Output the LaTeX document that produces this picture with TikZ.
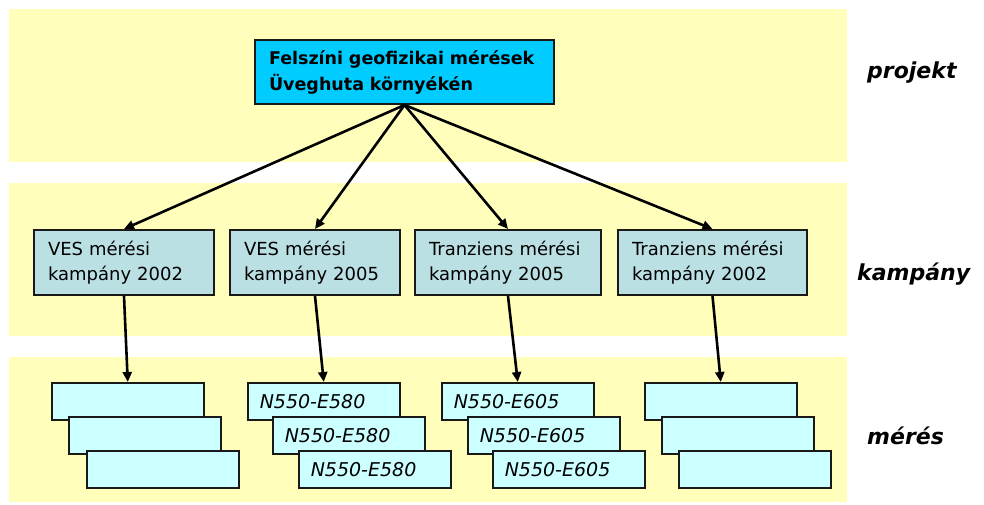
\documentclass[tikz,border=0pt]{standalone}
\usepackage{fontspec}
\setmainfont{DejaVu Sans}
\usetikzlibrary{arrows.meta}

\definecolor{band}{RGB}{255,255,187}
\definecolor{projfill}{RGB}{0,204,255}
\definecolor{campfill}{RGB}{187,224,228}
\definecolor{measfill}{RGB}{204,255,255}
\definecolor{edge}{RGB}{25,25,25}

\tikzset{
  bandbox/.style={fill=band},
  projbox/.style={draw=edge, line width=2pt, fill=projfill, anchor=north west,
    minimum height=64pt, text width=271pt, inner xsep=14pt, inner ysep=0pt,
    align=left, font=\fontsize{17.5}{26}\selectfont\bfseries},
  campbox/.style={draw=edge, line width=2pt, fill=campfill, anchor=north west,
    minimum height=65pt, inner xsep=14pt, inner ysep=0pt,
    align=left, font=\fontsize{18}{25}\selectfont},
  measbox/.style={draw=edge, line width=1.5pt, fill=measfill, anchor=north west,
    minimum height=37pt, text width=128pt, inner xsep=12pt, inner ysep=0pt,
    align=left, font=\fontsize{19}{22}\selectfont\itshape},
  levellabel/.style={anchor=base west, inner sep=0pt,
    font=\fontsize{22}{26}\selectfont\bfseries\itshape},
  conn/.style={draw=black, line width=2.6pt, -{Triangle[length=10pt,width=9pt]}},
}

\begin{document}
\begin{tikzpicture}[x=1pt,y=-1pt]
  \useasboundingbox (0,0) rectangle (984,504);

  % level bands
  \fill[bandbox] (9,9) rectangle (847,162);
  \fill[bandbox] (9,183) rectangle (847,336);
  \fill[bandbox] (9,357) rectangle (847,502);

  % project
  \node[projbox] (proj) at (254,39) {Felszíni geofizikai mérések\\Üveghuta környékén};

  % campaigns
  \node[campbox, text width=152pt] (c1) at (33,229) {VES mérési\\kampány 2002};
  \node[campbox, text width=142pt] (c2) at (229,229) {VES mérési\\kampány 2005};
  \node[campbox, text width=158pt] (c3) at (414,229) {Tranziens mérési\\kampány 2005};
  \node[campbox, text width=161pt] (c4) at (617,229) {Tranziens mérési\\kampány 2002};

  % measurement stacks
  \node[measbox] (m1a) at (51,382) {};
  \node[measbox] (m1b) at (68,416) {};
  \node[measbox] (m1c) at (86,450) {};

  \node[measbox] (m2a) at (247,382) {N550-E580};
  \node[measbox] (m2b) at (272,416) {N550-E580};
  \node[measbox] (m2c) at (298,450) {N550-E580};

  \node[measbox] (m3a) at (441,382) {N550-E605};
  \node[measbox] (m3b) at (467,416) {N550-E605};
  \node[measbox] (m3c) at (492,450) {N550-E605};

  \node[measbox] (m4a) at (644,382) {};
  \node[measbox] (m4b) at (661,416) {};
  \node[measbox] (m4c) at (678,450) {};

  % connectors
  \foreach \c in {c1,c2,c3,c4}
    \draw[conn] (proj.south) -- (\c.north);
  \draw[conn] (c1.south) -- (m1a.north);
  \draw[conn] (c2.south) -- (m2a.north);
  \draw[conn] (c3.south) -- (m3a.north);
  \draw[conn] (c4.south) -- (m4a.north);

  % level names
  \node[levellabel] (lp) at (867,78) {projekt};
  \node[levellabel] (lk) at (857,280) {kampány};
  \node[levellabel] (lm) at (867,444) {mérés};
\end{tikzpicture}
\end{document}
